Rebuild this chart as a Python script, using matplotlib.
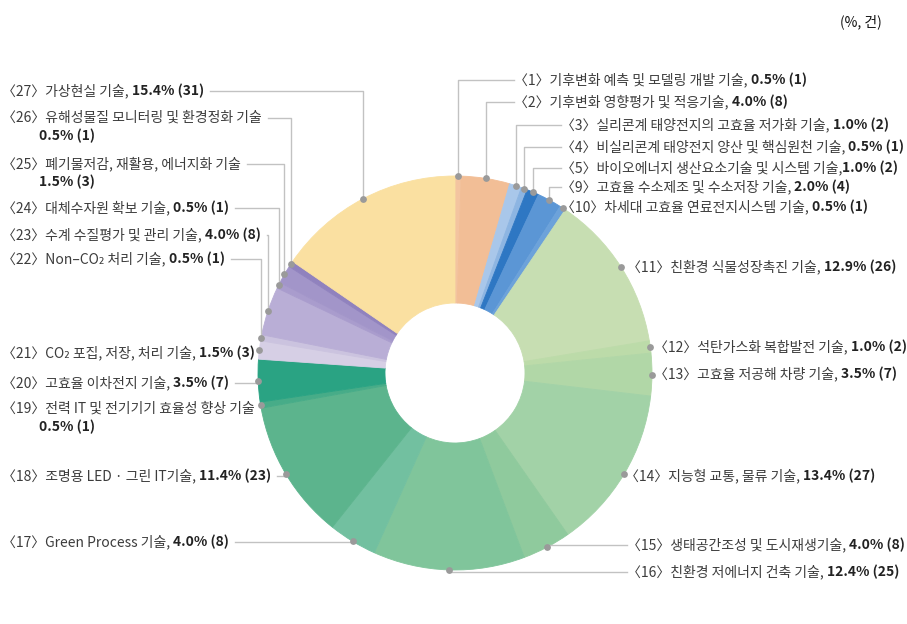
import matplotlib
matplotlib.use('Agg')
import matplotlib.pyplot as plt
import numpy as np

plt.rcParams['font.family'] = ['Noto Sans CJK KR', 'DejaVu Sans']

# ---------------- data ----------------
label_nums = [1, 2, 3, 4, 5, 9, 10, 11, 12, 13, 14, 15, 16, 17, 18, 19, 20, 21, 22, 23, 24, 25, 26, 27]
label_names = [
    "기후변화 예측 및 모델링 개발 기술",
    "기후변화 영향평가 및 적응기술",
    "실리콘계 태양전지의 고효율 저가화 기술",
    "비실리콘계 태양전지 양산 및 핵심원천 기술",
    "바이오에너지 생산요소기술 및 시스템 기술",
    "고효율 수소제조 및 수소저장 기술",
    "차세대 고효율 연료전지시스템 기술",
    "친환경 식물성장촉진 기술",
    "석탄가스화 복합발전 기술",
    "고효율 저공해 차량 기술",
    "지능형 교통, 물류 기술",
    "생태공간조성 및 도시재생기술",
    "친환경 저에너지 건축 기술",
    "Green Process 기술",
    "조명용 LED · 그린 IT기술",
    "전력 IT 및 전기기기 효율성 향상 기술",
    "고효율 이차전지 기술",
    "CO₂ 포집, 저장, 처리 기술",
    "Non–CO₂ 처리 기술",
    "수계 수질평가 및 관리 기술",
    "대체수자원 확보 기술",
    "폐기물저감, 재활용, 에너지화 기술",
    "유해성물질 모니터링 및 환경정화 기술",
    "가상현실 기술",
]
counts = [1, 8, 2, 1, 2, 4, 1, 26, 2, 7, 27, 8, 25, 8, 23, 1, 7, 3, 1, 8, 1, 3, 1, 31]
percents = [0.5, 4.0, 1.0, 0.5, 1.0, 2.0, 0.5, 12.9, 1.0, 3.5, 13.4, 4.0, 12.4,
            4.0, 11.4, 0.5, 3.5, 1.5, 0.5, 4.0, 0.5, 1.5, 0.5, 15.4]
separators = [", ", ", ", ", ", ", ", ",", ", ", ", ", ", ", ", ", ", ", ", ", ", ", ", ",
              ", ", ", ", "", ", ", ", ", ", ", ", ", ", ", "", "", ", "]
unit_label = "(%, 건)"

colors = ['#F3C4A0', '#F2BE96', '#A9C7EA', '#8DB5E2', '#2E77C3', '#5B96D5', '#6CA2DA',
          '#C7DEB2', '#BCDBA9', '#B1D7A7', '#A2D2A7', '#8FCA9D', '#80C59B', '#72C0A0',
          '#5CB48D', '#47AC88', '#2AA383', '#D6CFE5', '#CBC3DF', '#B9AED6', '#A99CCD',
          '#A295C9', '#9082BE', '#FAE0A1']

# ---------------- layout (pixel positions, y from top) ----------------
W, H = 907, 624
# side, text x, text y, route, wrapped
layout = {
    1: ('R', 514, 80, 'up', False),
    2: ('R', 514, 102, 'up', False),
    3: ('R', 561, 125, 'up', False),
    4: ('R', 561, 147, 'up', False),
    5: ('R', 561, 168, 'up', False),
    9: ('R', 561, 187, 'up', False),
    10: ('R', 561, 207, 'h', False),
    11: ('R', 627, 267, 'h', False),
    12: ('R', 654, 347, 'h', False),
    13: ('R', 654, 374, 'h', False),
    14: ('R', 625, 476, 'h', False),
    15: ('R', 627, 545, 'h', False),
    16: ('R', 627, 572, 'h', False),
    17: ('L', 2, 542, 'h', False),
    18: ('L', 2, 476, 'h', False),
    19: ('L', 2, 409, 'h', True),
    20: ('L', 2, 383, 'h', False),
    21: ('L', 2, 353, 'h', False),
    22: ('L', 2, 259, 'down', False),
    23: ('L', 2, 235, 'down', False),
    24: ('L', 2, 208, 'down', False),
    25: ('L', 2, 164, 'down', True),
    26: ('L', 2, 118, 'down', True),
    27: ('L', 2, 91, 'down', False),
}

def Y(v):
    return H - v

fig = plt.figure(figsize=(W / 100, H / 100), dpi=100)
ax = fig.add_axes([0, 0, 1, 1])

cx, cy, R, r_in = 455, Y(373), 197, 70
wedges, _ = ax.pie(counts, colors=colors, startangle=90, counterclock=False,
                   center=(cx, cy), radius=R,
                   wedgeprops=dict(width=R - r_in, linewidth=0.6))
for w, c in zip(wedges, colors):
    w.set_edgecolor(c)

ax.set_aspect('auto')
ax.set_xlim(0, W)
ax.set_ylim(0, H)
ax.axis('off')

FS = 10
reg_col = '#3c3c3c'
bold_col = '#222222'
line_col = '#c2c2c2'
dot_col = '#9a9a9a'

dots = {}
for n, w in zip(label_nums, wedges):
    mid = np.deg2rad((w.theta1 + w.theta2) / 2)
    dots[n] = (cx + R * np.cos(mid), cy + R * np.sin(mid))

ax.scatter([dots[n][0] for n in label_nums], [dots[n][1] for n in label_nums],
           s=24, color=dot_col, zorder=6, linewidths=0)

texts = {}
for n, name, cnt, pct, sep in zip(label_nums, label_names, counts, percents, separators):
    side, tx, ty, route, wrapped = layout[n]
    reg = f"〈{n}〉{name}{sep}"
    bold = f"{pct:.1f}% ({cnt})"
    t = ax.text(tx, Y(ty), reg, fontsize=FS, color=reg_col, ha='left', va='center')
    if wrapped:
        ax.text(tx + 37, Y(ty + 18), bold, fontsize=FS, color=bold_col,
                fontweight='bold', ha='left', va='center')
        last = t
    else:
        b = ax.annotate(bold, xy=(1, 0), xycoords=t, fontsize=FS, color=bold_col,
                        fontweight='bold', ha='left', va='bottom')
        last = b
    texts[n] = last

ax.text(882, Y(22), unit_label, fontsize=10, color='#111111', ha='right', va='center')

fig.canvas.draw()
renderer = fig.canvas.get_renderer()
inv = ax.transData.inverted()

gap = 6
for n in label_nums:
    side, tx, ty, route, wrapped = layout[n]
    dx, dy = dots[n]
    yy = Y(ty)
    if side == 'R':
        xs_end = tx
        if route == 'up':
            ax.plot([dx, dx, xs_end], [dy, yy, yy], color=line_col, lw=1, zorder=3)
        else:
            if xs_end - dx > 10:
                ax.plot([dx, xs_end], [yy, yy], color=line_col, lw=1, zorder=3)
    else:
        bb = texts[n].get_window_extent(renderer)
        x_end = inv.transform((bb.x1, bb.y0))[0] + gap
        if route == 'down':
            ax.plot([x_end, dx, dx], [yy, yy, dy], color=line_col, lw=1, zorder=3)
        else:
            if dx - x_end > 8:
                ax.plot([x_end, dx], [yy, yy], color=line_col, lw=1, zorder=3)

fig.savefig('out.png', dpi=100, facecolor='white')
